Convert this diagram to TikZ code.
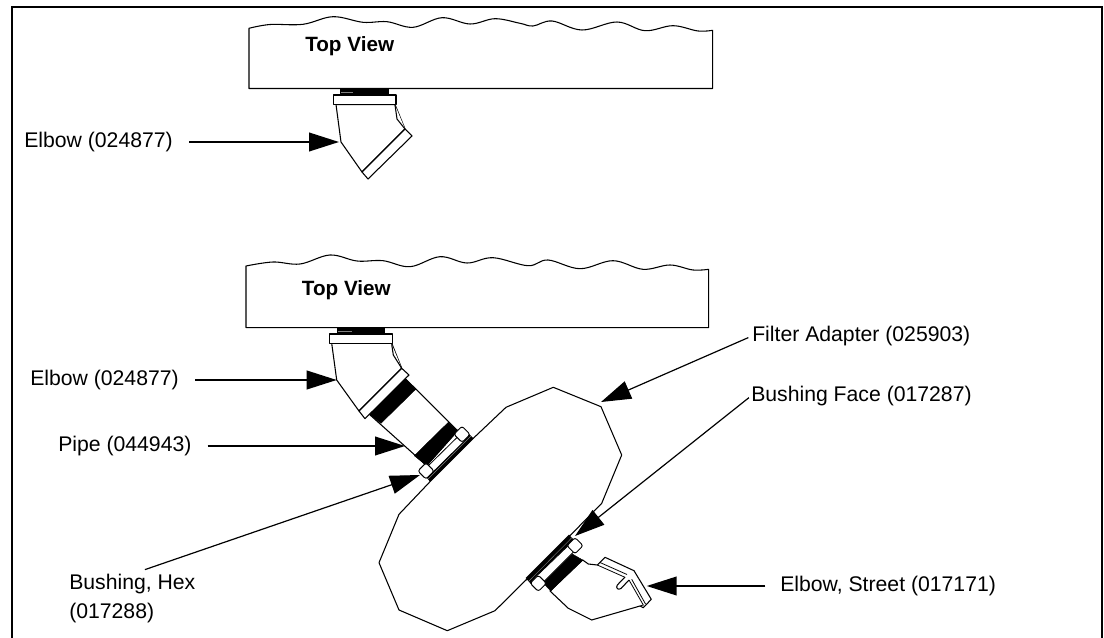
\documentclass[tikz,border=0pt]{standalone}
\usepackage{fontspec}
\setmainfont{Liberation Sans}
\usetikzlibrary{arrows.meta}
\tikzset{
  frameline/.style={line width=1.5pt,black},
  part/.style={line width=.8pt,black,fill=white,line join=round},
  solidpart/.style={fill=black,draw=black,line width=.3pt},
  grooves/.style={line width=.3pt,gray},
  hexstrip/.style={fill=white,draw=black,line width=.6pt},
  hexcap/.style={draw=black,fill=white,line width=.7pt,rounded corners=1.8pt,minimum size=8.6pt,inner sep=0pt,rotate=45},
  lbl/.style={font=\fontsize{15.9pt}{21.6pt}\selectfont,inner sep=0pt,anchor=west,align=left,text=black},
  viewlbl/.style={font=\fontsize{15.5pt}{18pt}\selectfont\bfseries,inner sep=0pt,anchor=west,text=black},
  callout/.style={line width=1.4pt,black,-{Triangle[length=22.5pt,width=14pt]}},
  slantcallout/.style={line width=.9pt,black,-{Triangle[length=22.5pt,width=14pt]}},
}
\begin{document}
\begin{tikzpicture}[x=.75pt,y=-.75pt]
\useasboundingbox (0,0) rectangle (1104,638);
% frame
\draw[frameline] (12,638) -- (12,7) -- (1102,7) -- (1102,638);

% upper wall
\draw[part] (249,88.5) -- (249,28.3) -- plot[smooth,tension=.6] coordinates {(249,28.3) (270,24.5) (303,24.3) (333,16.7) (363,22.3) (387,21.7) (413,27.3) (442,17.7) (470,24) (495,18.7) (520,23.3) (533,26) (552,21) (582,30) (617,22) (645,30.7) (673,25.7) (698,31) (712.7,30.3)} -- (712.7,88.5) -- cycle;
\node[viewlbl] (top1) at (305,46) {Top View};

% upper elbow
\fill[black] (340,89) rectangle (389,95);
\draw[grooves] (341,92) -- (353,92);
\draw[part] (336,104.5) -- (341,142) -- (362,172) -- (405,129) -- (395,104.5) -- cycle;
\draw[part] (333.5,95) rectangle (396,104.5);
\draw[part] (395,105) -- (397,119) -- (405,129);
\draw[part] (362,172) -- (405,129) -- (412,136) -- (368,179) -- cycle;

% lower wall
\draw[part] (246,327.7) -- (246,266) -- plot[smooth,tension=.6] coordinates {(246,266) (273,262) (300,264) (330,255) (357,261) (383,260.7) (410,266.7) (440,256.7) (467,263) (493,257.7) (528,265.7) (548,260) (580,268.7) (613,260.7) (643,269.3) (670,265) (693,270) (708.7,269.3)} -- (708.7,327.7) -- cycle;
\node[viewlbl] (top2) at (301.7,290) {Top View};

% filter adapter
\draw[part] (473.3,438.3) -- (506,407.3) -- (553.3,387.3) -- (601,406.7) -- (621.7,455) -- (601.7,503.3) -- (570,535.7) -- (526.7,579.3) -- (495,610.7) -- (447.3,630.7) -- (399,610) -- (379,562.7) -- (399,514.3) -- (430,481.7) -- cycle;

% lower elbow and pipe
\fill[black] (336.7,328) rectangle (385,334);
\draw[grooves] (338,331) -- (352,331);
\draw[part] (331.7,343.3) -- (336.7,380) -- (359,411) -- (401.7,368.3) -- (391.7,343.3) -- cycle;
\draw[part] (329.3,334) rectangle (392.7,343.3);
\draw[part] (391.7,344.3) -- (393.3,355) -- (401.7,368.3);
\draw[part] (369,414) -- (405,378.3) -- (457.7,430.7) -- (426.7,465.7) -- cycle;
\fill[solidpart] (369.3,414.3) -- (405,378.3) -- (415.7,389.3) -- (381,423.3) -- cycle;
\fill[solidpart] (414.3,455.7) -- (448.3,422.3) -- (457.7,430.7) -- (426.7,465.7) -- cycle;
\draw[part] (359,411) -- (401.7,368.3) -- (409,375) -- (365,418.7) -- cycle;
% upper bushing
\fill[black] (425,475.5) -- (430,481.7) -- (473.3,438.3) -- (468,433) -- cycle;
\draw[grooves] (428,479) -- (471,436);
\draw[hexstrip] (426,468) -- (459,435.5) -- (464.5,441) -- (431.5,473.5) -- cycle;
\node[hexcap] (capA) at (426,471) {};
\node[hexcap] (capB) at (462,434.3) {};

% lower bushing and street elbow
\draw[part] (582.7,560) -- (588.3,564) -- (597.3,565) -- (605,557.3) -- (634,570.7) -- (651.3,599.3) -- (643.3,607.7) -- (640,606) -- (591.7,620) -- (568.3,608.3) -- (550,591) -- cycle;
\draw[line width=.6pt] (597.3,565) -- (625,577.3);
\draw[line width=.6pt] (600,562.5) -- (627,574.5);
\draw[part] (625,577) -- (617.3,585) .. controls (615.5,588) and (618,590.5) .. (621,588.5) -- (629,580);
\draw[line width=.6pt] (629,580) -- (643.3,605) -- (640,606);
\draw[line width=.6pt] (631.7,579.3) -- (645.5,604);
\fill[solidpart] (572.3,554) -- (582.7,560) -- (550.7,591) -- (543,582.7) -- cycle;
\fill[black] (525.7,578) -- (531.3,584.5) -- (575,541) -- (569,534.7) -- cycle;
\draw[grooves] (529,581) -- (572,537.5);
\draw[hexstrip] (534,578.5) -- (572,542) -- (577.5,548) -- (540.5,585) -- cycle;
\node[hexcap] (capC) at (575,545.7) {};
\node[hexcap] (capD) at (538.3,583.3) {};

% labels
\node[lbl] (elbowA) at (24,142) {Elbow (024877)};
\node[lbl] (elbowB) at (30,380) {Elbow (024877)};
\node[lbl] (pipe) at (58,446) {Pipe (044943)};
\node[lbl] (hexb) at (69,598.5) {Bushing, Hex\\(017288)};
\node[lbl] (adapter) at (752,336) {Filter Adapter (025903)};
\node[lbl] (face) at (751,396) {Bushing Face (017287)};
\node[lbl] (street) at (780,586) {Elbow, Street (017171)};

% callout tips
\coordinate (tipA) at (339,142);
\coordinate (tipB) at (336.7,380);
\coordinate (tipP) at (405,446);
\coordinate (tipH) at (420,475);
\coordinate (tipF) at (601,402);
\coordinate (tipS) at (575,536);
\coordinate (tipE) at (646.7,586);

% callouts
\draw[callout,shorten <=12pt] (elbowA.east) -- (tipA);
\draw[callout,shorten <=12pt] (elbowB.east) -- (tipB);
\draw[callout,shorten <=12pt] (pipe.east) -- (tipP);
\draw[slantcallout,shorten <=10pt] (hexb.north) -- (tipH);
\draw[slantcallout,shorten <=3pt] (adapter.west) -- (tipF);
\draw[slantcallout,shorten <=2pt] (face.west) -- (tipS);
\draw[callout,shorten <=11pt] (street.west) -- (tipE);
\end{tikzpicture}
\end{document}
